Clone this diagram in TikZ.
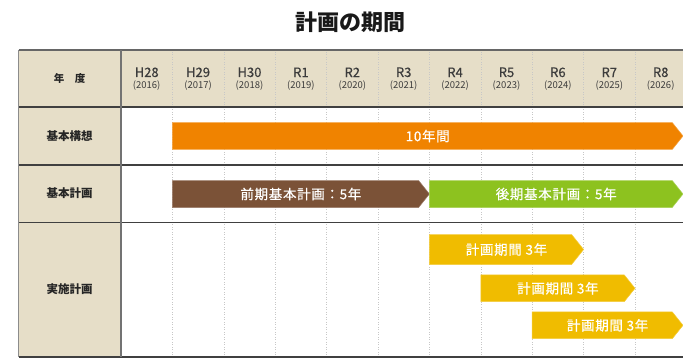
\documentclass[tikz,border=0pt]{standalone}
\usepackage{fontspec}
\setmainfont{Noto Sans CJK JP}
\definecolor{beige}{HTML}{E6DEC8}
\definecolor{cOrange}{HTML}{F08300}
\definecolor{cBrown}{HTML}{7B5237}
\definecolor{cGreen}{HTML}{8DC21F}
\definecolor{cYellow}{HTML}{F0BC00}
\definecolor{txtgrey}{HTML}{3C3C3C}
\tikzset{
  gridline/.style={draw=black!22, line width=0.5pt, dotted},
  rule/.style={draw=black!75, line width=1.1pt},
  vrule/.style={draw=black!55, line width=1.1pt},
  bartext/.style={text=white, font=\fontsize{13.5}{14}\selectfont\addfontfeatures{LetterSpace=5,FakeBold=0.6}, inner sep=0pt},
  yeartop/.style={text=txtgrey, font=\fontsize{13}{13}\selectfont\addfontfeatures{FakeBold=0.5}, inner sep=0pt},
  yearsub/.style={text=txtgrey, font=\fontsize{9.5}{10}\selectfont, inner sep=0pt},
  rowlabel/.style={text=black!85, font=\fontsize{11.5}{12}\selectfont\bfseries, inner sep=0pt},
}
\newcommand\planbar[7]{%
  \fill[#6, draw=#6!75!white, line width=0.5pt]
    (#2,#4-#5/2) -- (#3-0.4*#5,#4-#5/2) -- (#3,#4) -- (#3-0.4*#5,#4+#5/2) -- (#2,#4+#5/2) -- cycle;
  \node[bartext] (#1) at ({(#2+#3)/2},#4) {#7};}
\begin{document}
\begin{tikzpicture}[x=1pt,y=1pt]
\useasboundingbox (0,0) rectangle (683,360);
% fills
\fill[beige] (18.5,253) rectangle (683,310);
\fill[beige] (18.5,3) rectangle (121,253);
% dotted column lines
\foreach \i in {1,...,10} {
  \draw[gridline] ({121+51.4*\i},3) -- ({121+51.4*\i},310);
}
% horizontal rules
\draw[draw=black!60, line width=1.1pt] (18.5,310) -- (683,310);
\draw[rule] (18.5,253) -- (683,253);
\draw[rule] (18.5,195) -- (683,195);
\draw[rule] (18.5,137.7) -- (683,137.7);
\draw[rule] (18.5,3) -- (683,3);
% vertical rules
\draw[draw=black!45, line width=1.1pt] (18.5,310) -- (18.5,3);
\draw[vrule] (121,310) -- (121,3);
% title
\node[font=\fontsize{22}{24}\selectfont\bfseries, text=black!90, inner sep=0pt] (title) at (350,338) {計画の期間};
% header
\node[rowlabel, font=\fontsize{10.5}{11}\selectfont\bfseries] (hdr) at (69.5,281) {年　度};
\foreach \lab/\yr [count=\i] in {H28/2016,H29/2017,H30/2018,R1/2019,R2/2020,R3/2021,R4/2022,R5/2023,R6/2024,R7/2025,R8/2026} {
  \node[yeartop] (y\i) at ({121+51.4*(\i-0.5)},287.7) {\lab};
  \node[yearsub] (s\i) at ({121+51.4*(\i-0.5)},274.7) {(\yr)};
}
% row labels
\node[rowlabel] (r1) at (69.5,224) {基本構想};
\node[rowlabel] (r2) at (69.5,166.5) {基本計画};
\node[rowlabel] (r3) at (69.5,70.5) {実施計画};
% bars
\planbar{b1}{172.4}{683}{224}{26.6}{cOrange}{10年間}
\planbar{b2}{172.4}{429.4}{166}{27}{cBrown}{前期基本計画：5年}
\planbar{b3}{429.4}{683}{166}{27}{cGreen}{後期基本計画：5年}
\planbar{b4}{429.4}{583.6}{110.5}{30}{cYellow}{計画期間 3年}
\planbar{b5}{480.8}{635}{71.7}{26.7}{cYellow}{計画期間 3年}
\planbar{b6}{532.2}{683}{34.7}{26.7}{cYellow}{計画期間 3年}
\end{tikzpicture}
\end{document}
